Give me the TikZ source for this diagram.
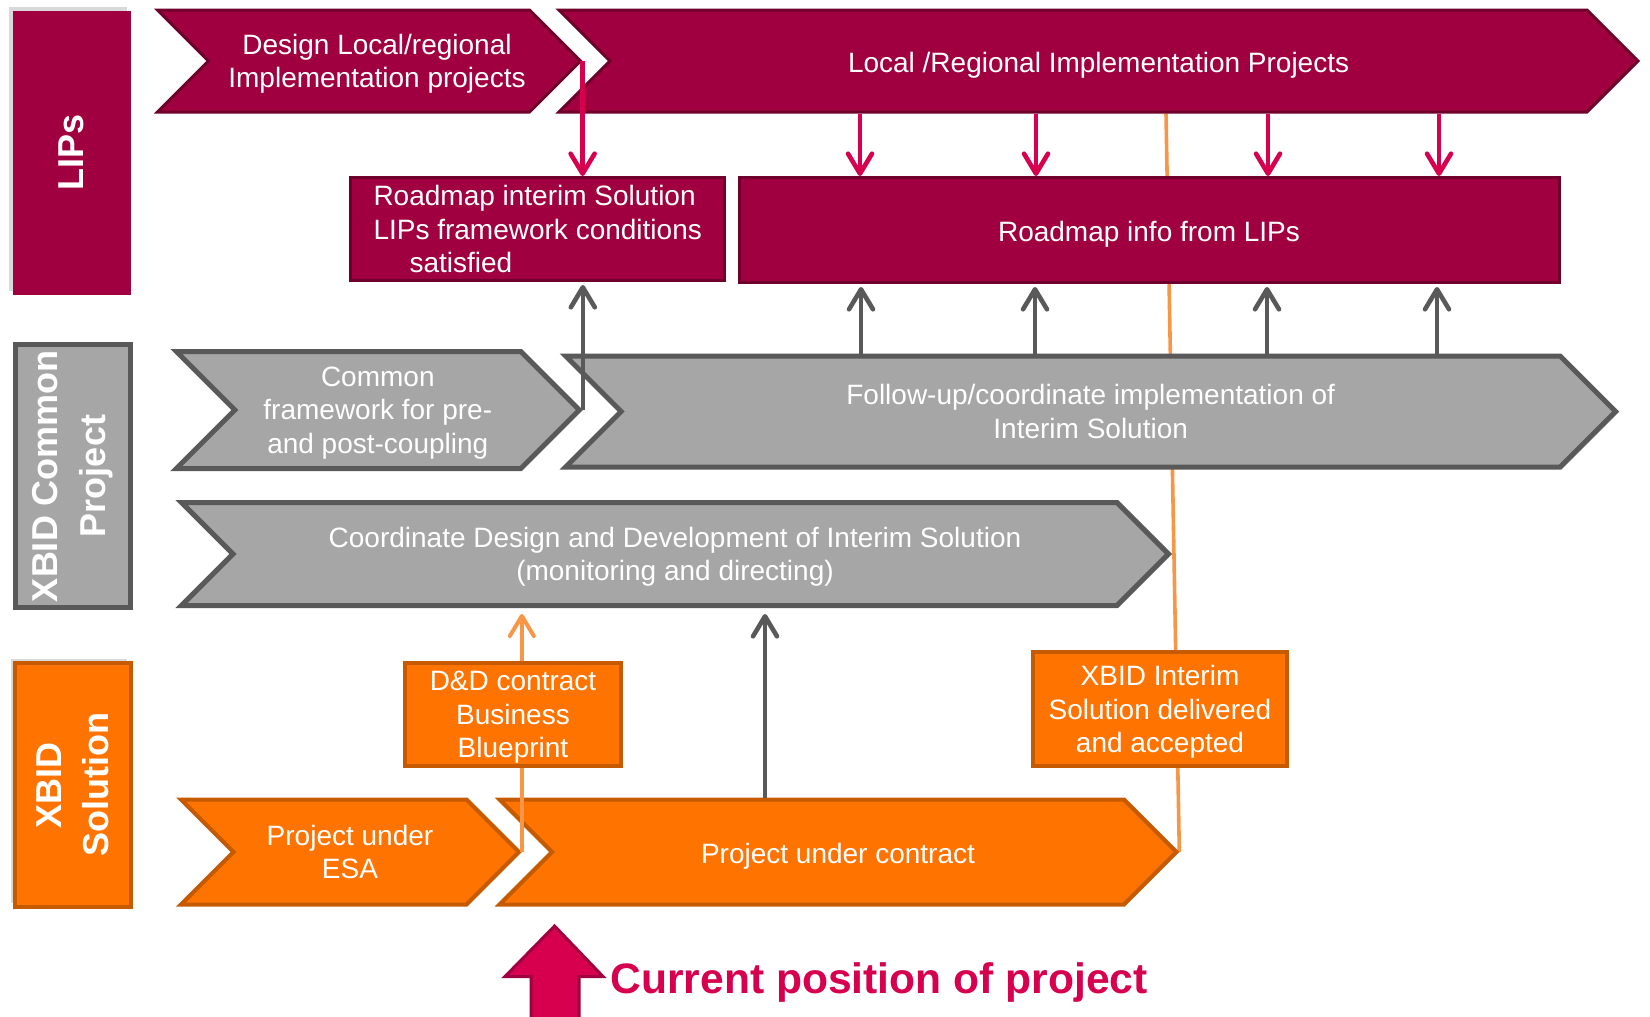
\documentclass[tikz,border=0pt]{standalone}
\usepackage{fontspec}
\setmainfont{Liberation Sans}
\usepackage{tikz}
\usetikzlibrary{shapes,arrows.meta,positioning,shadows,backgrounds}

\definecolor{lipsred}{HTML}{A0003F}
\definecolor{lipsdark}{HTML}{6E002B}
\definecolor{lipspink}{HTML}{D6004F}
\definecolor{cpgray}{HTML}{A6A6A6}
\definecolor{cpdark}{HTML}{595959}
\definecolor{solorange}{HTML}{FF7300}
\definecolor{soldark}{HTML}{C55A00}
\definecolor{sollight}{HTML}{F79646}

\begin{document}
\begin{tikzpicture}[x=0.5pt,y=-0.5pt,
  boxtext/.style={text=white,font=\fontsize{14}{16.8}\selectfont,align=center,inner sep=0pt,
    execute at begin node={\rule{0pt}{14pt}},execute at end node={\rule[-3pt]{0pt}{3pt}}},
  multiline/.style={text depth=-1.2pt},
  sidelabel/.style={rotate=90,text=white,font=\bfseries\fontsize{18}{23.7}\selectfont,align=center,inner sep=0pt},
  chevron/.style={boxtext,signal,signal from=west,signal to=east,signal pointer angle=90},
  lipssig/.style={chevron,fill=lipsred,draw=lipsdark,line width=1.5pt},
  lipsbox/.style={boxtext,rectangle,fill=lipsred,draw=lipsdark,line width=1.5pt},
  cpsig/.style={chevron,fill=cpgray,draw=cpdark,line width=2.5pt},
  solsig/.style={chevron,fill=solorange,draw=soldark,line width=2pt},
  solbox/.style={boxtext,rectangle,fill=solorange,draw=soldark,line width=2pt},
  lipsarr/.style={draw=lipspink,line width=2.3pt,-{Straight Barb[length=10pt,width=12pt,round]}},
  cparr/.style={draw=cpdark,line width=2.3pt,-{Straight Barb[length=10pt,width=12pt,round]}},
  solarr/.style={draw=sollight,line width=2pt,-{Straight Barb[length=10pt,width=12pt,round]}}]

\useasboundingbox (0,0) rectangle (1650,1017);

% side labels
\node[sidelabel,fill=lipsred,minimum width=142pt,minimum height=59pt,
  drop shadow={shadow xshift=-2pt,shadow yshift=2pt,opacity=0.3}] (lips) at (71.5,152.5) {LIPs};
\node[sidelabel,fill=cpgray,draw=cpdark,line width=2.5pt,minimum width=131.5pt,minimum height=57.5pt] (xcp) at (72.6,476) {XBID Common\\Project};
\node[sidelabel,fill=solorange,draw=soldark,line width=2pt,minimum width=122pt,minimum height=58pt,
  drop shadow={shadow xshift=-2pt,shadow yshift=2pt,opacity=0.3}] (xsol) at (72.6,785) {XBID\\Solution};

% chevrons
\node[lipssig,multiline,minimum width=211.5pt,minimum height=51pt] (design) at (369,61) {\hspace*{8pt}Design Local/regional\\\hspace*{8pt}Implementation projects};
\node[lipssig,minimum width=539.5pt,minimum height=51pt] (local) at (1098.6,61) {Local /Regional Implementation Projects};
\node[cpsig,multiline,minimum width=201.5pt,minimum height=58.5pt] (common) at (377.8,410) {Common\\framework for pre-\\and post-coupling};
\node[cpsig,multiline,minimum width=525pt,minimum height=55.5pt] (follow) at (1090.7,411.5) {Follow-up/coordinate implementation of\\Interim Solution};
\node[cpsig,multiline,minimum width=493.5pt,minimum height=51.5pt] (coord) at (675,554) {Coordinate Design and Development of Interim Solution\\(monitoring and directing)};
\node[solsig,multiline,minimum width=169pt,minimum height=52.5pt] (esa) at (350,852) {Project under\\ESA};
\node[solsig,minimum width=338.5pt,minimum height=52.5pt] (contract) at (838,852) {Project under contract};

% orange links
\begin{pgfonlayer}{background}
\draw[draw=sollight,line width=1.8pt] (1166,0 |- local.south) -- (contract.east);
\end{pgfonlayer}
\draw[solarr,shorten >=3pt] (esa.east) -- (esa.east |- coord.south);

% boxes
\node[lipsbox,multiline,align=left,minimum width=186.8pt,minimum height=51.5pt] (interim) at (537.7,229) {Roadmap interim Solution\\LIPs framework conditions\\\hspace*{18pt}satisfied};
\node[lipsbox,minimum width=410pt,minimum height=52.5pt] (info) at (1149,230) {Roadmap info from LIPs};
\node[solbox,multiline,text depth=-2pt,minimum width=108pt,minimum height=51.5pt] (dd) at (513,714.5) {D\&D contract\\Business\\Blueprint};
\node[solbox,multiline,minimum width=127pt,minimum height=57pt] (delivered) at (1160,709) {XBID Interim\\Solution delivered\\and accepted};

% arrows
\draw[lipsarr] (design.east) -- (design.east |- interim.north);
\foreach \px in {860,1036,1268,1439}
  \draw[lipsarr] (\px,0 |- local.south) -- (\px,0 |- info.north);
\draw[cparr,shorten >=1.5pt] (common.east) -- (common.east |- interim.south);
\foreach \px in {861,1035,1267,1437}
  \draw[cparr,shorten >=1.5pt] (\px,0 |- follow.north) -- (\px,0 |- info.south);
\draw[cparr,shorten >=3pt] (765,0 |- contract.north) -- (765,0 |- coord.south);

% current position
\filldraw[fill=lipspink,draw=lipsred,line width=1.5pt] (554.6,926) -- (603,976.5) -- (579,976.5) -- (579,1022)
  -- (531,1022) -- (531,976.5) -- (505,976.5) -- cycle;
\node[anchor=west,inner sep=0pt,text=lipspink,font=\bfseries\fontsize{21.3}{25}\selectfont] (here) at (610,982) {Current position of project};

\end{tikzpicture}
\end{document}
